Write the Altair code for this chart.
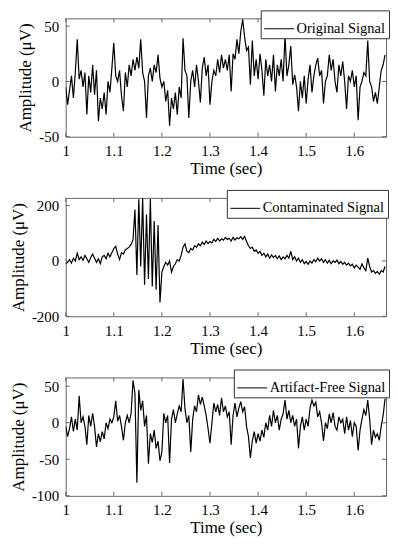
import altair as alt
import numpy as np
import pandas as pd

# time axis (s), sampled every 4 ms
TIME = [round(1.0 + 0.004 * i, 3) for i in range(167)]

ORIGINAL = [
    -5, -21, -8, 5, -15, 8, 38, 2, 10, -5,
    8, -30, 5, -10, 15, -12, 10, -36, -15, -25,
    -10, -30, 0, -10, 12, 35, 5, 0, 10, -13,
    -27, 8, -5, 15, 5, 20, 10, 22, 12, 38,
    8, 0, -33, 5, 12, 0, 15, 8, 24, 3,
    -5, 0, -18, -8, -40, -15, -25, -10, -30, -5,
    -15, 39, 10, 5, -33, 0, 10, -5, 15, 0,
    -19, 12, 22, 5, 15, -21, 0, 10, 5, 20,
    8, 24, 12, 20, 10, 24, -9, 25, 20, 38,
    25, 45, 56, 40, 28, 31, -3, 37, 5, 20,
    2, 25, 10, -13, 20, 5, 15, 0, 24, -9,
    15, 5, 20, 0, 42, 5, 15, 32, -3, 6,
    -5, -27, 0, -15, 5, -20, 2, 15, -10, 5,
    15, 21, 5, 10, -20, 0, 5, 24, 10, 20,
    0, -10, 15, 5, 18, 0, -25, 5, 0, 10,
    -5, 5, -35, -5, 0, 8, 5, 37, 0, -5,
    -18, -10, -20, -5, 10, 15, 24,
]

CONTAMINATED = [
    -10, -5, 5, -8, 10, 0, 28, 5, 15, 2,
    20, 8, -5, 12, 25, 10, -5, 8, -10, 15,
    20, 8, 28, 15, 30, 45, 53, 25, 5, 30,
    25, 40, 45, 50, 60, 77, 186, -51, 223, -20,
    228, -86, 168, -65, 224, -92, 144, -104, 130, -150,
    -40, -20, -5, -15, 0, -40, -20, -10, 5, 0,
    20, 50, 62, 35, 30, 45, 40, 55, 50, 62,
    55, 68, 60, 72, 63, 70, 65, 78, 70, 82,
    72, 80, 75, 85, 78, 82, 72, 85, 76, 84,
    80, 88, 78, 89, 70, 55, 45, 50, 35, 40,
    28, 35, 20, 28, 15, 25, 10, 22, 12, 20,
    8, 18, 5, 15, 8, 20, 10, 35, 5, 15,
    0, 10, -5, 5, -10, -2, -12, 0, -8, 5,
    -3, 10, 0, 8, -5, 5, -8, 2, -10, 0,
    -5, 3, -10, -2, -12, -5, -15, -8, -18, -12,
    -25, -15, -22, -30, -10, -25, -35, 10, -20, -40,
    -35, -45, -38, -48, -35, -40, -20,
]

ARTIFACT_FREE = [
    -5, -19, -8, 8, -12, 5, -10, 37, 0, 8,
    -5, -30, 10, -5, 13, -5, -33, -15, -26, -12,
    -22, 0, -8, 5, 0, 8, 30, 2, 10, -5,
    -24, 0, 10, 0, 13, 58, 40, -82, 45, 17,
    30, -5, 10, -56, -15, -27, -10, -35, -25, -52,
    -40, 13, 0, 10, -55, 5, 18, 0, 12, 23,
    15, 60, 19, 0, 10, -40, 5, 23, 15, 38,
    25, 35, 23, 10, -8, -28, 0, 27, 15, 25,
    10, 34, 15, 23, 8, 15, -30, 10, 27, 8,
    20, 29, 15, 22, -5, -19, -48, -25, -12, -28,
    -15, -25, -10, -20, 0, -10, 10, -5, 17, 0,
    10, -10, 5, 12, 31, 5, 17, 0, 10, -5,
    5, -35, -5, 8, -10, 5, -5, 20, 31, 23,
    28, 8, 15, 0, -25, 0, -8, 12, 0, 14,
    -5, -10, 8, 0, 5, -15, 8, -10, 3, -19,
    0, -5, -38, -10, 5, 18, 10, 31, 5, -30,
    -10, -20, -15, -24, -5, 10, 33,
]

X_TICKS = [1, 1.1, 1.2, 1.3, 1.4, 1.5, 1.6]
X_DOMAIN = [1, 1.666]

SERIES_NAMES = ["Original Signal", "Contaminated Signal", "Artifact-Free Signal"]
Y_DOMAINS = [[-50, 57], [-200, 228], [-100, 62]]
Y_TICKS = [[-50, 0, 50], [-200, 0, 200], [-100, -50, 0, 50]]
LEGEND_X = [196, 162, 169]

W, H = 322, 119
FONT = "Liberation Serif"
X_TITLE = "Time (sec)"
Y_TITLE = "Amplitude (μV)"
AX = "#666666"


def panel(values, name, ydom, yticks, legx):
    df = pd.DataFrame({"t": TIME, "v": values, "s": name})
    xs = alt.Scale(domain=X_DOMAIN, nice=False, zero=False)
    ys = alt.Scale(domain=ydom, nice=False, zero=False)
    xaxis = alt.Axis(values=X_TICKS, format="~g", labelOverlap=False,
                     labelFlush=False)
    yaxis = alt.Axis(values=yticks, format="d", labelOverlap=False,
                     labelFlush=False, labelExpr="replace(datum.label, '−', '-')")
    line = alt.Chart(df).mark_line(strokeWidth=1.2, clip=True).encode(
        x=alt.X("t:Q", scale=xs, title=X_TITLE, axis=xaxis),
        y=alt.Y("v:Q", scale=ys, title=Y_TITLE, axis=yaxis),
        color=alt.Color("s:N", scale=alt.Scale(range=["black"]),
                        legend=alt.Legend(
                            orient="none", legendX=legx, legendY=-8,
                            title=None, strokeColor="#333333", fillColor="white",
                            padding=3, symbolType="stroke", symbolSize=900,
                            symbolStrokeWidth=1, symbolStrokeColor="black",
                            labelFont=FONT, labelFontSize=14.5, labelColor="black",
                            labelOffset=2, cornerRadius=0)),
    )
    xt = pd.DataFrame({"t": X_TICKS})
    yt = pd.DataFrame({"v": yticks})
    xb = alt.Chart(xt).mark_rule(color=AX).encode(
        x=alt.X("t:Q", title=X_TITLE, axis=xaxis), y=alt.value(H), y2=alt.value(H - 4))
    xtop = alt.Chart(xt).mark_rule(color=AX).encode(
        x=alt.X("t:Q", title=X_TITLE, axis=xaxis), y=alt.value(0), y2=alt.value(4))
    yl = alt.Chart(yt).mark_rule(color=AX).encode(
        y=alt.Y("v:Q", title=Y_TITLE, axis=yaxis), x=alt.value(0), x2=alt.value(4))
    yr = alt.Chart(yt).mark_rule(color=AX).encode(
        y=alt.Y("v:Q", title=Y_TITLE, axis=yaxis), x=alt.value(W), x2=alt.value(W - 4))
    return alt.layer(line, xb, xtop, yl, yr).properties(width=W, height=H)


panels = [panel(v, n, d, t, lx) for v, n, d, t, lx in
          zip([ORIGINAL, CONTAMINATED, ARTIFACT_FREE], SERIES_NAMES,
              Y_DOMAINS, Y_TICKS, LEGEND_X)]

chart = alt.vconcat(*panels, spacing=61.5, bounds="flush").resolve_scale(
    x="independent", y="independent", color="independent"
).resolve_legend(color="independent").properties(
    padding={"left": 1, "top": 0, "right": 0, "bottom": 0}
).configure_view(stroke=AX, strokeWidth=1).configure_axis(
    labelFont=FONT, labelFontSize=15, labelColor="black",
    titleFont=FONT, titleFontSize=17, titleFontWeight="normal", titleColor="black",
    domain=False, ticks=False, grid=False,
).configure_axisX(labelPadding=7, titlePadding=2).configure_axisY(
    labelPadding=7, titlePadding=4)

chart.save("out.html", embed_options={"renderer": "svg", "actions": False})
